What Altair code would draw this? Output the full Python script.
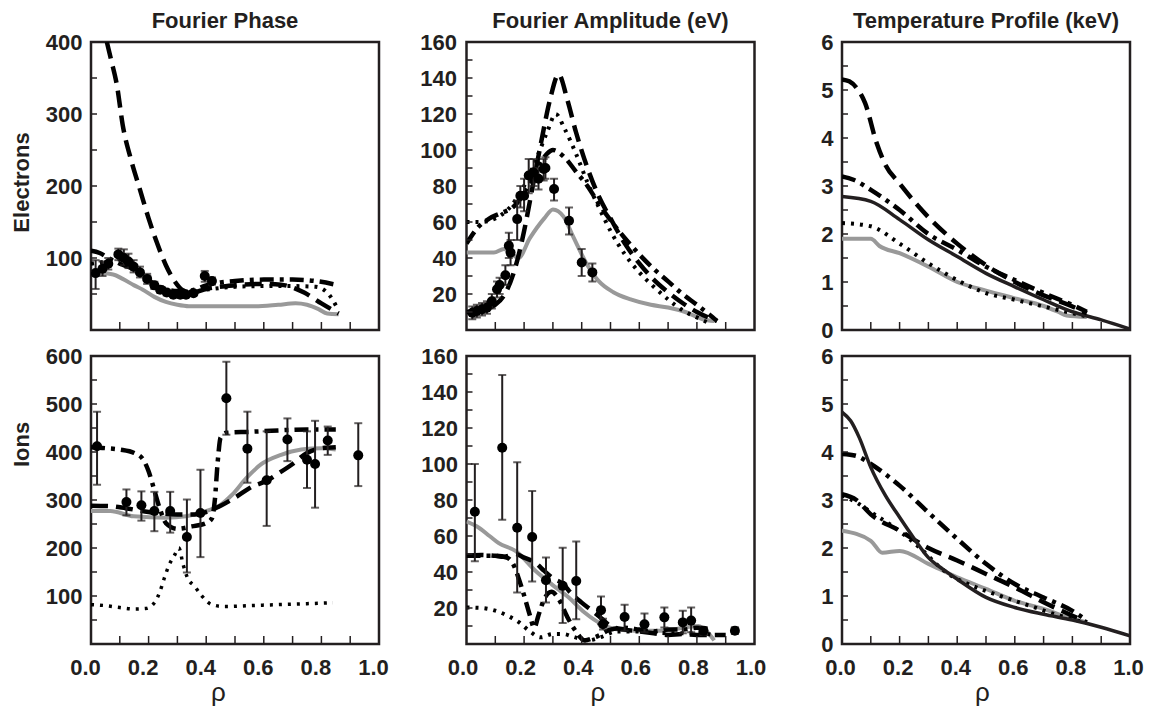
import altair as alt
import pandas as pd

FONT = "Liberation Sans"
INK = "#231f20"
GRAY = "#999999"
BLACK = "#000000"
W = 288
H = 288

DASH = [17, 8]
DASHDOT = [14, 6, 4, 6]
DOT = [3, 6]

X_TICKS = [0.1, 0.2, 0.3, 0.4, 0.5, 0.6, 0.7, 0.8, 0.9]
X_LABELS = [0.0, 0.2, 0.4, 0.6, 0.8, 1.0]

# ---------------- Electrons : Fourier phase ----------------
EP_GRAY = [(0.0, 79), (0.03, 79), (0.077, 77), (0.11, 71), (0.15, 62), (0.18, 56), (0.22, 46),
           (0.26, 39), (0.3, 35), (0.34, 33), (0.45, 33), (0.57, 33), (0.65, 35), (0.71, 37),
           (0.75, 35), (0.79, 29), (0.82, 23), (0.86, 22)]
EP_DASH = [(0.055, 400), (0.07, 375), (0.09, 340), (0.11, 285), (0.14, 235), (0.17, 195),
           (0.2, 155), (0.23, 120), (0.26, 90), (0.29, 68), (0.32, 55), (0.35, 52), (0.4, 57),
           (0.5, 62), (0.6, 64), (0.66, 63), (0.7, 59), (0.74, 52), (0.8, 37), (0.86, 23)]
EP_DASHDOT = [(0.0, 110), (0.03, 107), (0.06, 100), (0.1, 92), (0.14, 86), (0.18, 75),
              (0.22, 64), (0.26, 57), (0.3, 54), (0.35, 55), (0.4, 62), (0.45, 66), (0.5, 68),
              (0.6, 70), (0.7, 70), (0.78, 68), (0.86, 62)]
EP_DOT = [(0.0, 92), (0.05, 95), (0.1, 98), (0.15, 88), (0.2, 72), (0.25, 58), (0.3, 52),
          (0.35, 53), (0.4, 56), (0.5, 60), (0.6, 61), (0.7, 61), (0.78, 60), (0.82, 52),
          (0.86, 27)]
EP_PTS = [(0.016, 79, 57, 97), (0.04, 85, 75, 95), (0.06, 92, 84, 100), (0.095, 105, 97, 113),
          (0.114, 100, 90, 112), (0.13, 95, 86, 106), (0.148, 88, 80, 97), (0.17, 80, 73, 88),
          (0.195, 71, 64, 78), (0.22, 62, 57, 67), (0.24, 56, 52, 61), (0.263, 52, 48, 56),
          (0.286, 49, 46, 52), (0.31, 49, 46, 52), (0.33, 49, 46, 53), (0.356, 51, 48, 55),
          (0.395, 75, 67, 82), (0.42, 68, 63, 73)]

# ---------------- Electrons : Fourier amplitude ----------------
EA_GRAY = [(0.0, 43), (0.05, 43), (0.095, 43), (0.13, 45), (0.16, 42), (0.18, 40), (0.22, 51),
           (0.27, 62), (0.3, 67), (0.337, 63), (0.37, 52), (0.42, 36), (0.46, 27), (0.51, 21),
           (0.57, 17), (0.64, 14), (0.7, 12.5), (0.76, 10), (0.82, 6), (0.86, 5)]
EA_DASH = [(0.0, 10), (0.05, 11), (0.1, 14), (0.14, 22), (0.17, 35), (0.2, 55), (0.23, 80),
           (0.26, 105), (0.29, 128), (0.32, 142), (0.35, 128), (0.38, 110), (0.42, 90),
           (0.46, 74), (0.5, 62), (0.55, 48), (0.6, 37), (0.65, 28), (0.7, 21), (0.75, 15),
           (0.8, 10), (0.87, 5)]
EA_DASHDOT = [(0.0, 48), (0.04, 57), (0.08, 62), (0.12, 65), (0.16, 68), (0.2, 76), (0.24, 88),
              (0.28, 98), (0.3, 100), (0.34, 96), (0.38, 88), (0.42, 80), (0.46, 70), (0.5, 61),
              (0.55, 51), (0.6, 42), (0.65, 34), (0.7, 27), (0.75, 20), (0.8, 14), (0.84, 9),
              (0.87, 5)]
EA_DOT = [(0.0, 60), (0.05, 60), (0.1, 62), (0.15, 68), (0.2, 80), (0.25, 98), (0.28, 110),
          (0.31, 120), (0.34, 112), (0.38, 98), (0.42, 82), (0.46, 68), (0.5, 55), (0.55, 42),
          (0.6, 32), (0.65, 24), (0.7, 17), (0.75, 11), (0.8, 7), (0.84, 4)]
EA_PTS = [(0.02, 9.6, 6, 13), (0.036, 10.6, 7, 14), (0.054, 11.5, 8, 15), (0.071, 12.4, 9, 16),
          (0.088, 16, 12, 20), (0.106, 22.6, 18, 27), (0.115, 25, 20, 29), (0.135, 30.4, 25, 36),
          (0.147, 46.8, 40, 54), (0.153, 43, 36, 50), (0.176, 61.6, 50, 72),
          (0.187, 74.6, 68, 80), (0.2, 74.6, 66, 84), (0.216, 85.8, 76, 95),
          (0.233, 87.6, 80, 95), (0.25, 84, 78, 90), (0.268, 89.5, 83, 95), (0.274, 90, 84, 96),
          (0.304, 78.3, 72, 84), (0.356, 60.7, 53, 68), (0.40, 37.5, 30, 45),
          (0.437, 32, 27, 37)]

# ---------------- Electrons : temperature profile ----------------
ET_DASH = [(0.0, 5.22), (0.025, 5.18), (0.05, 5.05), (0.08, 4.73), (0.12, 3.9), (0.15, 3.45),
           (0.2, 3.05), (0.3, 2.35), (0.4, 1.8), (0.5, 1.35), (0.6, 1.0), (0.7, 0.72),
           (0.8, 0.49), (0.85, 0.35)]
ET_DASHDOT = [(0.0, 3.2), (0.04, 3.13), (0.1, 2.92), (0.2, 2.5), (0.3, 2.0), (0.4, 1.67),
              (0.5, 1.32), (0.6, 1.04), (0.7, 0.77), (0.8, 0.52), (0.85, 0.38)]
ET_SOLID = [(0.0, 2.78), (0.1, 2.68), (0.2, 2.3), (0.3, 1.88), (0.4, 1.53), (0.5, 1.18),
            (0.6, 0.9), (0.7, 0.63), (0.8, 0.38), (0.9, 0.21), (1.0, 0.02)]
ET_DOT = [(0.0, 2.23), (0.1, 2.16), (0.2, 1.8), (0.3, 1.39), (0.4, 1.04), (0.5, 0.77),
          (0.6, 0.63), (0.7, 0.49), (0.8, 0.35), (0.85, 0.28)]
ET_GRAY = [(0.0, 1.9), (0.1, 1.9), (0.13, 1.75), (0.2, 1.6), (0.3, 1.32), (0.4, 1.0),
           (0.5, 0.82), (0.6, 0.66), (0.7, 0.5), (0.75, 0.38), (0.78, 0.3), (0.85, 0.27)]

# ---------------- Ions : Fourier phase ----------------
IP_GRAY = [(0.0, 277), (0.067, 277), (0.148, 266), (0.26, 263), (0.33, 266), (0.4, 277),
           (0.45, 290), (0.49, 311), (0.54, 346), (0.59, 374), (0.66, 394), (0.73, 405),
           (0.8, 408), (0.85, 405)]
IP_DASH = [(0.0, 288), (0.07, 287), (0.12, 283), (0.2, 275), (0.3, 270), (0.36, 270),
           (0.4, 275), (0.45, 288), (0.5, 305), (0.56, 328), (0.61, 340), (0.65, 355),
           (0.7, 375), (0.75, 398), (0.8, 408), (0.85, 410)]
IP_DASHDOT = [(0.0, 410), (0.05, 408), (0.1, 405), (0.15, 398), (0.18, 385), (0.2, 360),
              (0.22, 320), (0.24, 280), (0.26, 252), (0.3, 240), (0.35, 245), (0.4, 252),
              (0.42, 262), (0.43, 300), (0.44, 380), (0.45, 430), (0.47, 440), (0.55, 442),
              (0.65, 445), (0.75, 447), (0.85, 447)]
IP_DOT = [(0.0, 82), (0.05, 80), (0.1, 76), (0.15, 73), (0.19, 74), (0.22, 86), (0.24, 110),
          (0.255, 138), (0.27, 163), (0.29, 185), (0.305, 200), (0.32, 165), (0.335, 138),
          (0.36, 120), (0.385, 100), (0.42, 82), (0.465, 78), (0.55, 80), (0.65, 82),
          (0.75, 84), (0.84, 86)]
IP_PTS = [(0.021, 412, 332, 484), (0.123, 296, 268, 322), (0.175, 289, 257, 318),
          (0.22, 277, 235, 317), (0.275, 277, 232, 317), (0.333, 223, 149, 301),
          (0.38, 273, 181, 363), (0.47, 512, 436, 588), (0.543, 407, 336, 484),
          (0.61, 341, 246, 443), (0.682, 426, 381, 470), (0.75, 384, 325, 443),
          (0.778, 375, 284, 465), (0.822, 424, 394, 453), (0.928, 393, 329, 460)]

# ---------------- Ions : Fourier amplitude ----------------
IA_GRAY = [(0.0, 68), (0.043, 64.6), (0.08, 60), (0.112, 56), (0.17, 51.7), (0.24, 40.6),
           (0.297, 33), (0.355, 25.8), (0.41, 17.5), (0.47, 11), (0.516, 8.3), (0.586, 7.4),
           (0.678, 7.4), (0.76, 9.2), (0.805, 10), (0.84, 6), (0.86, 2)]
IA_DASH = [(0.0, 49), (0.05, 49.5), (0.1, 49), (0.13, 48.5), (0.17, 50), (0.2, 48), (0.24, 45),
           (0.27, 40.6), (0.3, 36.5), (0.338, 33), (0.356, 29.5), (0.4, 23), (0.44, 18),
           (0.47, 14), (0.5, 10), (0.55, 8), (0.6, 7), (0.65, 6), (0.7, 5), (0.75, 5.5),
           (0.8, 5), (0.9, 5)]
IA_DASHDOT = [(0.0, 49), (0.1, 49), (0.14, 48), (0.16, 45), (0.18, 37), (0.2, 27), (0.22, 16),
              (0.235, 9), (0.25, 16), (0.27, 25), (0.295, 29), (0.32, 25), (0.35, 15),
              (0.38, 7), (0.41, 2), (0.45, 4), (0.5, 8), (0.55, 9), (0.6, 8), (0.65, 7),
              (0.7, 8), (0.75, 8), (0.8, 9), (0.85, 8)]
IA_DOT = [(0.0, 20.3), (0.055, 20), (0.1, 18.5), (0.143, 15.7), (0.183, 12), (0.22, 7),
          (0.258, 3.7), (0.298, 5.5), (0.337, 5.5), (0.37, 4), (0.42, 2), (0.47, 4),
          (0.52, 7), (0.6, 7), (0.7, 6), (0.8, 6), (0.86, 5)]
IA_PTS = [(0.029, 73.5, 46, 100), (0.124, 109, 69, 149.5), (0.176, 64.6, 28.6, 101),
          (0.228, 59.4, 34.7, 85), (0.276, 35.4, 23, 48), (0.334, 32.3, 11.6, 53.5),
          (0.381, 35, 13.8, 57), (0.467, 18.8, 11, 26.4), (0.474, 11, 8, 14),
          (0.549, 15, 7.4, 21.8), (0.618, 11, 6.5, 17), (0.687, 14.8, 9.2, 20.3),
          (0.751, 12, 6, 18.5), (0.78, 13, 6.5, 20.3), (0.823, 7.4, 5, 9.5),
          (0.932, 7.4, 5.5, 9.3)]

# ---------------- Ions : temperature profile ----------------
IT_SOLID = [(0.0, 4.83), (0.03, 4.65), (0.06, 4.3), (0.1, 3.68), (0.15, 3.1), (0.2, 2.64),
            (0.25, 2.2), (0.3, 1.8), (0.35, 1.56), (0.4, 1.35), (0.5, 0.97), (0.6, 0.76),
            (0.7, 0.62), (0.8, 0.5), (0.9, 0.35), (1.0, 0.17)]
IT_DASHDOT = [(0.0, 3.96), (0.05, 3.92), (0.1, 3.75), (0.2, 3.3), (0.3, 2.74), (0.4, 2.19),
              (0.5, 1.67), (0.6, 1.25), (0.7, 0.97), (0.8, 0.69), (0.85, 0.49)]
IT_DASH = [(0.0, 3.12), (0.05, 3.0), (0.1, 2.7), (0.2, 2.36), (0.3, 2.0), (0.4, 1.74),
           (0.5, 1.46), (0.6, 1.18), (0.7, 0.87), (0.8, 0.59), (0.85, 0.45)]
IT_DOT = [(0.0, 3.1), (0.05, 2.95), (0.1, 2.75), (0.2, 2.35), (0.28, 1.95), (0.34, 1.6),
          (0.38, 1.42), (0.45, 1.22), (0.55, 1.0), (0.65, 0.8), (0.75, 0.6), (0.85, 0.44)]
IT_GRAY = [(0.0, 2.36), (0.1, 2.15), (0.14, 1.9), (0.2, 1.94), (0.3, 1.67), (0.4, 1.39),
           (0.5, 1.15), (0.6, 0.9), (0.7, 0.73), (0.8, 0.52), (0.85, 0.45)]

Y_TICKS_PHASE_E = [50, 100, 150, 200, 250, 300, 350]
Y_LABELS_PHASE_E = [100, 200, 300, 400]
Y_TICKS_PHASE_I = [50, 100, 150, 200, 250, 300, 350, 400, 450, 500, 550]
Y_LABELS_PHASE_I = [100, 200, 300, 400, 500, 600]
Y_TICKS_AMP = [10, 20, 30, 40, 50, 60, 70, 80, 90, 100, 110, 120, 130, 140, 150]
Y_LABELS_AMP = [20, 40, 60, 80, 100, 120, 140, 160]
Y_TICKS_TEMP = [0.5, 1, 1.5, 2, 2.5, 3, 3.5, 4, 4.5, 5, 5.5]
Y_LABELS_TEMP = [0, 1, 2, 3, 4, 5, 6]


def to_df(pts):
    return pd.DataFrame(pts, columns=["rho", "val"])


def panel(series, points, ydom, ylabels, yticks, xaxis, ytitle=None, title_y=None,
          title=None, ypad=9):
    xs = alt.Scale(domain=[0, 1], nice=False, zero=False)
    ys = alt.Scale(domain=ydom, nice=False, zero=False)
    yaxis_kw = dict(values=ylabels, format="d", labelPadding=ypad, title=ytitle,
                    labelFlush=False)
    if ytitle:
        yaxis_kw.update(titlePadding=12, titleY=title_y, titleAlign="center")
    yaxis = alt.Axis(**yaxis_kw)

    def X(f="rho"):
        return alt.X(f"{f}:Q", scale=xs, axis=xaxis)

    def Y(f="val"):
        return alt.Y(f"{f}:Q", scale=ys, axis=yaxis)

    layers = []
    for pts, color, dash, width in series:
        kw = dict(color=color, strokeWidth=width, interpolate="monotone", clip=True)
        if dash:
            kw["strokeDash"] = dash
        layers.append(alt.Chart(to_df(pts)).mark_line(**kw).encode(x=X(), y=Y()))
    if points:
        d = pd.DataFrame(points, columns=["rho", "val", "lo", "hi"])
        base = alt.Chart(d)
        layers.append(base.mark_rule(color=INK, strokeWidth=2, clip=True)
                      .encode(x=X(), y=Y("lo"), y2="hi:Q"))
        for f in ("lo", "hi"):
            layers.append(base.mark_tick(color=INK, orient="horizontal", size=8,
                                         thickness=2, clip=True)
                          .encode(x=X(), y=Y(f)))
        layers.append(base.mark_circle(color=BLACK, size=100, opacity=1, clip=True)
                      .encode(x=X(), y=Y()))
    layers.append(alt.Chart(pd.DataFrame({"val": yticks}))
                  .mark_rule(color=INK, strokeWidth=1.5)
                  .encode(y=Y(), x=alt.value(0), x2=alt.value(6)))
    layers.append(alt.Chart(pd.DataFrame({"rho": X_TICKS}))
                  .mark_rule(color=INK, strokeWidth=1.5)
                  .encode(x=X(), y=alt.value(H), y2=alt.value(H - 8)))
    ch = alt.layer(*layers).properties(width=W, height=H)
    if title is not None:
        ch = ch.properties(title=title)
    return ch


def bottom_axis(offset, title_x):
    return alt.Axis(values=X_LABELS, format=".1f", title="ρ", labelPadding=13,
                    labelOffset=offset, labelFlush=False, titleFontWeight="normal",
                    titleFontSize=26, titlePadding=1, titleX=title_x, titleAlign="center")


p11 = panel([(EP_GRAY, GRAY, None, 4), (EP_DOT, BLACK, DOT, 4),
             (EP_DASHDOT, BLACK, DASHDOT, 4.5), (EP_DASH, BLACK, DASH, 4.5)],
            EP_PTS, [0, 400], Y_LABELS_PHASE_E, Y_TICKS_PHASE_E, None,
            ytitle="Electrons", title_y=140,
            title=alt.TitleParams("Fourier Phase", dx=-10))
p12 = panel([(EA_GRAY, GRAY, None, 4), (EA_DOT, BLACK, DOT, 4),
             (EA_DASHDOT, BLACK, DASHDOT, 4.5), (EA_DASH, BLACK, DASH, 4.5)],
            EA_PTS, [0, 160], Y_LABELS_AMP, Y_TICKS_AMP, None,
            title=alt.TitleParams("Fourier Amplitude (eV)"), ypad=10)
p13 = panel([(ET_GRAY, GRAY, None, 4), (ET_DOT, BLACK, DOT, 4),
             (ET_SOLID, INK, None, 3.5), (ET_DASHDOT, BLACK, DASHDOT, 4.5),
             (ET_DASH, BLACK, DASH, 4.5)],
            None, [0, 6], Y_LABELS_TEMP, Y_TICKS_TEMP, None,
            title=alt.TitleParams("Temperature Profile (keV)"))
p21 = panel([(IP_GRAY, GRAY, None, 4), (IP_DOT, BLACK, DOT, 3.5),
             (IP_DASHDOT, BLACK, DASHDOT, 4.5), (IP_DASH, BLACK, DASH, 4.5)],
            IP_PTS, [0, 600], Y_LABELS_PHASE_I, Y_TICKS_PHASE_I, bottom_axis(-6, 127),
            ytitle="Ions", title_y=88)
p22 = panel([(IA_GRAY, GRAY, None, 4), (IA_DOT, BLACK, DOT, 4),
             (IA_DASHDOT, BLACK, DASHDOT, 4.5), (IA_DASH, BLACK, DASH, 4.5)],
            IA_PTS, [0, 160], Y_LABELS_AMP, Y_TICKS_AMP, bottom_axis(-4, 131))
p23 = panel([(IT_GRAY, GRAY, None, 4), (IT_DOT, BLACK, DOT, 4),
             (IT_DASH, BLACK, DASH, 4.5), (IT_DASHDOT, BLACK, DASHDOT, 4.5),
             (IT_SOLID, INK, None, 3.5)],
            None, [0, 6], Y_LABELS_TEMP, Y_TICKS_TEMP, bottom_axis(-2, 140))

chart = (
    alt.concat(p11, p12, p13, p21, p22, p23, columns=3,
               spacing={"row": 26, "column": 87.5}, bounds="flush")
    .properties(padding={"left": 1, "top": 0, "right": 5, "bottom": 5},
                background="white")
    .configure_axis(labelFont=FONT, labelFontSize=22, labelFontWeight="bold",
                    labelColor=INK, titleFont=FONT, titleFontSize=22,
                    titleFontWeight="bold", titleColor=INK, grid=False, domain=False,
                    ticks=False)
    .configure_title(font=FONT, fontSize=22, fontWeight="bold", color=INK,
                     baseline="alphabetic", offset=-2, anchor="middle")
    .configure_view(stroke=INK, strokeWidth=2.5)
)

chart.save("out.html", embed_options={"renderer": "svg", "actions": False})
